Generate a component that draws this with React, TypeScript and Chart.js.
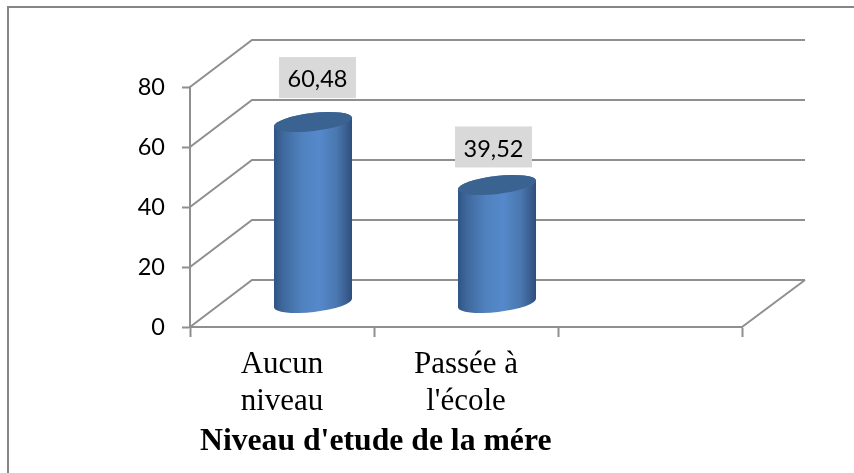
import React, { useEffect, useRef } from "react";
import { Chart, registerables } from "chart.js";

Chart.register(...registerables);

const categories: (string | string[])[] = [["Aucun", "niveau"], ["Passée à", "l'école"], ""];
const seriesName = "Niveau d'etude de la mére";
const values: (number | null)[] = [60.48, 39.52, null];
const yTicks = [0, 20, 40, 60, 80];
const xAxisTitle = "Niveau d'etude de la mére";

const GRID = "#8f8f8f";
const DEPTH_X = 62;
const DEPTH_Y = -47;
const LABEL_SHIFT = [[4.5, -44.5], [-3.5, -38]];

const fmt = (v: number) => v.toFixed(2).replace(".", ",");

const scene = {
  id: "scene",
  beforeDraw(chart: any) {
    const { ctx, width, height } = chart;
    ctx.save();
    ctx.fillStyle = "#ffffff";
    ctx.fillRect(0, 0, width, height);
    ctx.strokeStyle = "#868686";
    ctx.lineWidth = 2;
    ctx.beginPath();
    ctx.moveTo(8, height);
    ctx.lineTo(8, 7);
    ctx.lineTo(width, 7);
    ctx.stroke();
    ctx.restore();
  },
  beforeDatasetsDraw(chart: any) {
    const { ctx, chartArea, scales } = chart;
    const { left, right, bottom } = chartArea;
    ctx.save();
    ctx.strokeStyle = GRID;
    ctx.lineWidth = 2;
    for (const t of yTicks) {
      const y = scales.y.getPixelForValue(t);
      ctx.beginPath();
      ctx.moveTo(left, y);
      ctx.lineTo(left + DEPTH_X, y + DEPTH_Y);
      ctx.lineTo(right + DEPTH_X + 1, y + DEPTH_Y);
      ctx.stroke();
    }
    ctx.beginPath();
    ctx.moveTo(right, bottom);
    ctx.lineTo(right + DEPTH_X + 1, bottom + DEPTH_Y);
    ctx.stroke();
    ctx.restore();
  },
  // The library's flat bar is replaced by a cylinder built on the bar element's geometry.
  beforeDatasetDraw() {
    return false;
  },
  afterDatasetsDraw(chart: any) {
    const { ctx } = chart;
    const rot = -6.6 * (Math.PI / 180);
    const b = 9;
    const meta = chart.getDatasetMeta(0);
    const drawn: any[] = [];
    meta.data.forEach((el: any, i: number) => {
      if (values[i] == null) return;
      const cx = el.x + DEPTH_X / 2;
      const topY = el.y + DEPTH_Y / 2;
      const baseY = el.base + DEPTH_Y / 2;
      const a = el.width / 2 / Math.cos(rot);
      const x0 = cx - el.width / 2;
      const x1 = cx + el.width / 2;
      const grad = ctx.createLinearGradient(x0, 0, x1, 0);
      grad.addColorStop(0, "#2f5485");
      grad.addColorStop(0.12, "#3f699d");
      grad.addColorStop(0.35, "#4f81bd");
      grad.addColorStop(0.58, "#5589cb");
      grad.addColorStop(0.8, "#4a78b0");
      grad.addColorStop(0.93, "#3a5e90");
      grad.addColorStop(1, "#2e4f7c");
      ctx.save();
      ctx.fillStyle = grad;
      ctx.beginPath();
      ctx.ellipse(cx, baseY, a, b, rot, 0, Math.PI);
      ctx.ellipse(cx, topY, a, b, rot, Math.PI, 0);
      ctx.closePath();
      ctx.fill();
      ctx.fillStyle = "#3b6392";
      ctx.beginPath();
      ctx.ellipse(cx, topY, a, b, rot, 0, Math.PI * 2);
      ctx.fill();
      ctx.restore();
      drawn.push({ cx, topY, i });
    });
    ctx.save();
    ctx.font = "23.5px Lato";
    ctx.textAlign = "center";
    ctx.textBaseline = "middle";
    for (const d of drawn) {
      const x = d.cx + LABEL_SHIFT[d.i][0];
      const y = d.topY + LABEL_SHIFT[d.i][1];
      ctx.fillStyle = "#d9d9d9";
      ctx.fillRect(x - 38.5, y - 20.5, 77, 41);
      ctx.fillStyle = "#000000";
      ctx.fillText(fmt(values[d.i] as number), x, y + 2);
    }
    ctx.font = "bold 31.7px 'Liberation Serif'";
    ctx.textAlign = "left";
    ctx.textBaseline = "alphabetic";
    ctx.fillText(xAxisTitle, 200, 450);
    ctx.restore();
  },
};

export default function App() {
  const ref = useRef<HTMLCanvasElement>(null);
  useEffect(() => {
    const chart = new Chart(ref.current as HTMLCanvasElement, {
      type: "bar",
      data: {
        labels: categories as any,
        datasets: [
          {
            label: seriesName,
            data: values,
            backgroundColor: "#4f81bd",
            barPercentage: 0.424,
            categoryPercentage: 1,
          },
        ],
      },
      options: {
        responsive: false,
        animation: false,
        layout: { padding: { left: 0, right: 112, top: 87, bottom: 0 } },
        plugins: { legend: { display: false }, tooltip: { enabled: false } },
        scales: {
          x: {
            afterFit(s: any) {
              s.height = 146;
            },
            border: { color: GRID, width: 2 },
            grid: { drawOnChartArea: false, tickColor: GRID, tickLength: 10, tickWidth: 2 },
            ticks: {
              color: "#000000",
              font: { family: "'Liberation Serif'", size: 31, lineHeight: 1.18 },
              padding: 10,
              maxRotation: 0,
              autoSkip: false,
            },
          },
          y: {
            min: 0,
            max: 80,
            afterFit(s: any) {
              s.width = 190;
            },
            afterBuildTicks(s: any) {
              s.ticks = yTicks.map((v) => ({ value: v }));
            },
            border: { color: GRID, width: 2 },
            grid: { drawOnChartArea: false, tickColor: GRID, tickLength: 8, tickWidth: 2 },
            ticks: {
              color: "#000000",
              font: { family: "Lato", size: 23.5 },
              padding: 17,
            },
          },
        },
      },
      plugins: [scene],
    } as any);
    return () => chart.destroy();
  }, []);
  return (
    <div style={{ position: "fixed", left: 0, top: 0, width: 854, height: 473, background: "#fff" }}>
      <canvas ref={ref} width={854} height={473} style={{ display: "block" }} />
    </div>
  );
}
